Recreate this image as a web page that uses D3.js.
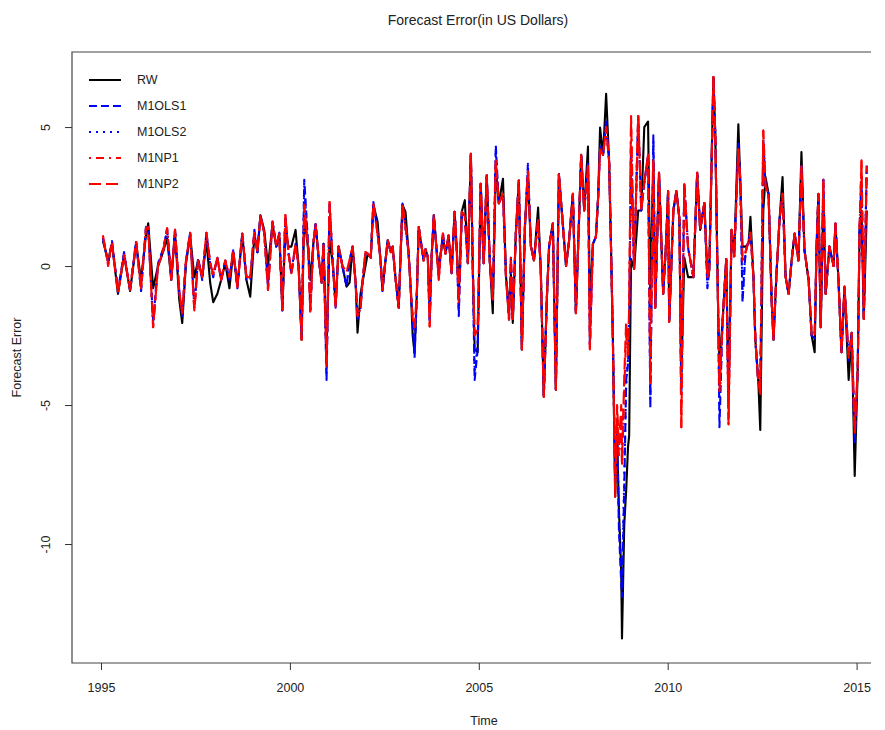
<!DOCTYPE html>
<html>
<head>
<meta charset="utf-8">
<script src="https://cdn.jsdelivr.net/npm/d3@7"></script>
<style>
  html, body { margin: 0; padding: 0; background: #fff; }
  svg { display: block; font-family: "Liberation Sans", Arial, sans-serif; }
</style>
</head>
<body>
<svg id="chart" width="885" height="730"></svg>
<script>
// Forecast errors (US dollars) of five forecasting models, 1995–2015.
const dates = [
  1995.05,1995.19,1995.29,1995.45,1995.61,1995.77,1995.93,1996.06,1996.19,1996.25,
  1996.38,1996.51,1996.64,1996.75,1996.86,1996.96,1997.07,1997.15,1997.25,1997.36,
  1997.47,1997.57,1997.68,1997.79,1997.89,1997.97,1998.08,1998.18,1998.29,1998.40,
  1998.50,1998.61,1998.74,1998.85,1998.95,1999.06,1999.14,1999.22,1999.32,1999.42,
  1999.54,1999.64,1999.72,1999.80,1999.88,1999.96,2000.04,2000.15,2000.23,2000.31,
  2000.38,2000.49,2000.54,2000.62,2000.68,2000.76,2000.84,2000.89,2000.97,2001.05,
  2001.13,2001.21,2001.29,2001.39,2001.50,2001.58,2001.66,2001.74,2001.79,2001.87,
  2001.92,2002.00,2002.06,2002.14,2002.21,2002.32,2002.40,2002.45,2002.53,2002.59,
  2002.67,2002.72,2002.80,2002.88,2002.93,2002.98,2003.06,2003.14,2003.20,2003.25,
  2003.30,2003.36,2003.41,2003.54,2003.59,2003.65,2003.70,2003.75,2003.81,2003.89,
  2003.94,2003.99,2004.05,2004.12,2004.20,2004.28,2004.36,2004.42,2004.47,2004.55,
  2004.63,2004.71,2004.79,2004.84,2004.89,2004.97,2005.05,2005.13,2005.21,2005.29,
  2005.37,2005.45,2005.53,2005.64,2005.72,2005.80,2005.85,2005.90,2005.98,2006.06,
  2006.14,2006.22,2006.30,2006.38,2006.46,2006.57,2006.64,2006.72,2006.80,2006.86,
  2006.96,2007.04,2007.12,2007.23,2007.31,2007.39,2007.49,2007.57,2007.71,2007.79,
  2007.89,2007.94,2008.02,2008.10,2008.16,2008.21,2008.29,2008.37,2008.45,2008.50,
  2008.55,2008.61,2008.66,2008.71,2008.77,2008.79,2008.85,2008.90,2008.95,2008.98,
  2009.03,2009.11,2009.22,2009.30,2009.38,2009.48,2009.54,2009.62,2009.67,2009.77,
  2009.88,2009.96,2010.01,2010.04,2010.15,2010.23,2010.31,2010.36,2010.44,2010.54,
  2010.68,2010.78,2010.86,2010.97,2011.05,2011.10,2011.21,2011.26,2011.34,2011.37,
  2011.45,2011.55,2011.61,2011.69,2011.76,2011.87,2011.92,2011.98,2012.06,2012.14,
  2012.19,2012.27,2012.32,2012.40,2012.45,2012.53,2012.59,2012.67,2012.75,2012.80,
  2012.88,2012.96,2013.04,2013.12,2013.20,2013.28,2013.36,2013.46,2013.54,2013.62,
  2013.73,2013.81,2013.89,2013.94,2013.99,2014.05,2014.12,2014.18,2014.28,2014.39,
  2014.44,2014.52,2014.60,2014.68,2014.79,2014.87,2014.95,2015.03,2015.08,2015.13,
  2015.19,2015.27
];

const rw = [
  0.9,0.2,0.8,-1.0,0.4,-0.9,0.8,-0.5,1.1,1.54,
  -0.8,0.0,0.5,1.0,-0.5,1.2,-1.2,-2.05,0.1,1.1,
  -0.4,0.2,-0.4,0.9,-0.6,-1.3,-1.0,-0.5,0.1,-0.8,
  0.5,-0.7,1.1,-0.5,-1.1,1.1,0.5,1.83,1.3,0.0,
  1.5,0.7,1.1,-1.5,1.2,0.7,0.7,1.3,0.0,-2.65,
  1.8,0.5,-0.5,0.8,1.5,0.3,-0.6,0.8,-3.0,0.9,
  0.2,-1.4,0.7,0.0,-0.74,-0.6,0.7,-0.6,-2.4,-1.0,
  -0.6,0.0,0.45,0.3,2.2,1.6,0.2,-0.86,0.2,0.93,
  0.5,0.7,-0.5,-1.5,0.4,2.2,1.95,0.5,-0.86,-2.5,
  -3.13,-1.0,1.4,0.2,0.6,0.33,-1.5,0.3,1.83,0.45,
  0.0,0.4,1.0,0.45,1.1,-0.26,1.95,0.5,-1.0,1.95,
  2.37,0.1,4.04,0.0,-3.0,-3.1,2.96,0.1,3.26,0.2,
  -1.7,3.5,2.25,3.14,-0.38,-1.5,-0.3,-2.05,1.17,3.08,
  -3.0,1.4,3.2,0.7,0.2,2.1,-0.14,-4.7,-1.2,0.7,
  1.53,-4.45,3.3,1.4,0.0,0.93,2.6,-1.7,4.0,2.0,
  4.3,-1.5,0.79,1.06,2.5,4.98,4.0,6.2,3.76,0.65,
  -2.7,-8.3,-6.1,-8.8,-11.0,-13.4,-9.3,-8.1,-6.5,-6.1,
  0.25,-0.1,2.0,2.0,5.0,5.2,-1.0,3.8,-1.5,3.35,
  -1.0,0.9,2.7,-2.0,2.0,2.7,1.7,-4.0,0.3,-0.4,
  -0.4,3.35,1.3,2.27,-0.3,-0.16,6.8,4.7,-2.05,-3.5,
  -2.05,0.25,-4.8,1.3,0.35,5.1,3.1,0.7,0.7,0.8,
  1.77,-0.4,-2.65,-4.2,-5.9,2.0,3.2,2.6,-1.2,-2.65,
  -0.26,1.65,3.2,-0.38,-1.0,0.2,1.17,0.2,4.1,0.57,
  -0.5,-2.5,-3.1,0.7,2.6,-2.2,2.5,-1.0,0.7,0.0,
  1.53,-0.5,-3.1,-0.74,-4.1,-2.4,-7.55,-3.7,1.4,2.0,
  -1.9,2.0
];

const m1ols1 = [
  1.0,0.1,0.9,-0.9,0.5,-0.9,0.9,-0.9,1.4,1.3,
  -2.0,0.1,0.6,1.3,-0.4,1.3,-0.9,-1.8,0.2,1.2,
  -1.5,0.3,-0.5,1.2,0.1,-0.4,0.3,-0.5,0.2,-0.5,
  0.6,-0.8,1.2,-0.5,-0.5,1.3,0.5,1.8,1.2,-0.7,
  1.6,0.7,1.2,-1.6,1.8,0.5,-0.3,0.8,0.0,-2.6,
  3.1,0.6,-1.6,0.8,1.5,0.3,-0.6,0.8,-4.1,2.2,
  0.2,-1.5,0.7,0.0,-0.74,0.2,0.7,-0.6,-1.9,-1.5,
  -0.6,0.5,0.45,0.3,2.3,1.2,0.2,-0.9,0.2,0.93,
  0.5,0.7,-0.5,-1.5,0.4,2.25,1.4,0.5,-0.86,-2.0,
  -3.3,-1.0,1.4,0.2,0.6,0.33,-2.0,0.3,1.83,0.45,
  -0.3,0.4,1.17,0.45,1.1,-0.26,1.95,0.5,-1.8,1.95,
  1.8,0.1,4.0,0.0,-4.1,-3.0,2.96,0.1,3.26,0.2,
  -1.3,4.34,2.25,2.6,-0.38,-1.93,0.3,-1.9,1.17,3.08,
  -3.0,1.4,3.68,0.7,0.2,1.65,-0.14,-4.7,-1.2,0.7,
  1.53,-4.45,3.3,1.4,0.0,0.93,2.6,-1.7,4.0,2.0,
  3.7,-2.8,0.79,1.06,2.5,4.3,4.0,5.2,3.76,0.65,
  -2.7,-7.5,-6.0,-9.5,-11.4,-11.9,-8.0,-4.1,-3.5,-2.0,
  4.0,-0.1,5.4,2.0,3.0,4.0,-5.1,4.7,-1.5,3.35,
  -1.0,0.9,2.7,-2.0,2.0,2.7,1.7,-4.5,2.95,0.65,
  -0.4,3.35,1.3,2.27,-0.8,-0.16,6.8,4.7,-2.05,-5.8,
  -2.05,0.25,-5.0,1.3,0.35,4.4,3.1,-1.3,0.5,0.9,
  1.2,-0.4,-2.65,-4.2,-4.3,4.5,2.85,2.6,-1.2,-2.65,
  -0.26,1.65,2.6,-0.38,-1.0,0.2,1.17,0.2,3.6,0.57,
  -0.5,-2.5,-2.6,0.7,2.6,-2.2,3.1,-1.0,0.7,0.0,
  1.53,-0.5,-3.1,-0.74,-3.4,-2.4,-6.4,-3.7,1.4,3.0,
  -1.9,3.7
];

const m1ols2 = [
  1.0,0.1,0.9,-0.95,0.45,-0.85,0.85,-0.85,1.3,1.35,
  -2.1,0.0,0.5,1.3,-0.5,1.3,-0.9,-1.8,0.2,1.2,
  -1.5,0.2,-0.4,1.1,0.1,-0.3,0.3,-0.5,0.2,-0.4,
  0.57,-0.75,1.17,-0.4,-0.4,1.2,0.5,1.8,1.2,-0.8,
  1.6,0.7,1.2,-1.6,1.8,0.5,-0.2,0.8,0.0,-2.6,
  2.9,0.57,-1.6,0.8,1.5,0.33,-0.6,0.8,-3.9,2.2,
  0.2,-1.45,0.7,0.0,-0.7,0.2,0.7,-0.6,-1.8,-1.5,
  -0.6,0.5,0.45,0.3,2.25,1.17,0.2,-0.86,0.2,0.93,
  0.5,0.7,-0.5,-1.5,0.4,2.25,1.4,0.5,-0.86,-1.9,
  -3.0,-1.0,1.4,0.2,0.6,0.33,-2.0,0.3,1.83,0.45,
  -0.4,0.4,1.17,0.45,1.1,-0.26,1.95,0.5,-1.6,1.95,
  1.8,0.1,4.0,0.0,-3.8,-2.8,2.96,0.1,3.26,0.2,
  -1.2,4.1,2.25,2.6,-0.38,-1.93,0.3,-1.9,1.17,3.08,
  -3.0,1.4,3.5,0.7,0.2,1.65,-0.14,-4.7,-1.2,0.7,
  1.53,-4.45,3.3,1.4,0.0,0.93,2.6,-1.7,4.0,2.0,
  3.6,-2.9,0.79,1.06,2.5,4.2,4.0,5.1,3.76,0.65,
  -2.7,-7.8,-5.8,-9.2,-11.0,-11.5,-7.6,-4.3,-3.3,-2.0,
  4.2,-0.1,5.3,2.0,3.0,4.0,-4.8,4.5,-1.5,3.35,
  -1.0,0.9,2.7,-2.0,2.0,2.7,1.7,-4.6,2.95,0.65,
  -0.4,3.35,1.3,2.27,-0.6,-0.16,6.8,4.7,-2.05,-5.2,
  -2.05,0.25,-5.2,1.3,0.35,4.3,3.1,-1.0,0.5,0.9,
  1.2,-0.4,-2.65,-4.2,-4.4,4.6,2.85,2.6,-1.2,-2.65,
  -0.26,1.65,2.6,-0.38,-1.0,0.2,1.17,0.2,3.6,0.57,
  -0.5,-2.5,-2.5,0.7,2.6,-2.2,3.1,-1.0,0.7,0.0,
  1.53,-0.5,-3.1,-0.74,-3.3,-2.4,-6.2,-3.7,1.4,3.2,
  -1.9,3.6
];

const m1np1 = [
  1.1,0.0,0.8,-0.95,0.4,-0.8,0.9,-0.8,1.35,1.4,
  -2.2,0.0,0.5,1.36,-0.5,1.3,-0.9,-1.7,0.2,1.2,
  -1.6,0.2,-0.4,1.2,0.1,-0.3,0.3,-0.5,0.2,-0.4,
  0.57,-0.75,1.17,-0.4,-0.4,1.2,0.5,1.8,1.2,-0.86,
  1.6,0.7,1.17,-1.58,1.83,0.5,-0.26,0.8,0.0,-2.65,
  2.2,0.57,-1.7,0.8,1.5,0.33,-0.6,0.8,-3.6,2.3,
  0.2,-1.45,0.7,0.0,-0.2,0.2,0.7,-0.6,-1.8,-1.5,
  -0.6,0.5,0.45,0.3,2.25,1.17,0.2,-0.86,0.2,0.93,
  0.5,0.7,-0.5,-1.5,0.4,2.25,1.4,0.5,-0.86,-1.9,
  -2.2,-1.0,1.4,0.2,0.6,0.33,-2.17,0.3,1.83,0.45,
  -0.5,0.4,1.17,0.45,1.1,-0.26,1.95,0.5,-1.3,1.95,
  1.8,0.1,4.04,0.0,-2.5,-2.3,2.96,0.1,3.26,0.2,
  -1.2,3.8,2.25,2.6,-0.38,-1.93,0.3,-1.9,1.17,3.08,
  -3.0,1.4,3.4,0.7,0.2,1.65,-0.14,-4.7,-1.2,0.7,
  1.53,-4.45,3.3,1.4,0.0,0.93,2.6,-1.7,4.0,2.0,
  3.6,-3.0,0.79,1.06,2.5,4.2,4.0,5.0,3.76,0.65,
  -2.7,-8.0,-5.2,-6.8,-5.5,-7.2,-4.5,-2.5,-3.2,-1.6,
  5.2,-0.1,5.4,2.0,3.0,4.0,-4.2,3.8,-1.5,3.35,
  -1.0,0.9,2.7,-2.0,2.0,2.7,1.7,-5.8,2.95,0.65,
  -0.4,3.35,1.3,2.27,-0.4,-0.16,6.8,4.7,-2.05,-4.5,
  -2.05,0.25,-5.7,1.3,0.35,4.2,3.1,0.2,0.5,0.9,
  1.2,-0.4,-2.65,-4.2,-4.6,4.87,2.85,2.6,-1.2,-2.65,
  -0.26,1.65,2.6,-0.38,-1.0,0.2,1.17,0.2,3.6,0.57,
  -0.5,-2.5,-2.5,0.7,2.6,-2.2,3.1,-1.0,0.7,0.0,
  1.53,-0.5,-3.1,-0.74,-3.3,-2.4,-6.0,-3.7,1.4,3.8,
  -1.9,3.6
];

const m1np2 = [
  1.1,0.1,0.86,-0.97,0.4,-0.86,0.86,-0.8,1.36,1.4,
  -2.2,0.0,0.5,1.36,-0.5,1.3,-0.9,-1.7,0.2,1.2,
  -1.6,0.2,-0.4,1.2,0.1,-0.3,0.3,-0.5,0.2,-0.4,
  0.57,-0.75,1.17,-0.4,-0.4,1.2,0.5,1.8,1.2,-0.86,
  1.6,0.7,1.17,-1.58,1.83,0.5,-0.26,0.8,0.0,-2.65,
  2.2,0.57,-1.7,0.8,1.5,0.33,-0.6,0.8,-3.6,2.3,
  0.2,-1.45,0.7,0.0,-0.2,0.2,0.7,-0.6,-1.8,-1.5,
  -0.6,0.5,0.45,0.3,2.25,1.17,0.2,-0.86,0.2,0.93,
  0.5,0.7,-0.5,-1.5,0.4,2.25,1.4,0.5,-0.86,-1.9,
  -2.2,-1.0,1.4,0.2,0.6,0.33,-2.17,0.3,1.83,0.45,
  -0.5,0.4,1.17,0.45,1.1,-0.26,1.95,0.5,-1.3,1.95,
  1.8,0.1,4.04,0.0,-2.5,-2.3,2.96,0.1,3.26,0.2,
  -1.2,3.8,2.25,2.6,-0.38,-1.93,0.3,-1.9,1.17,3.08,
  -3.0,1.4,3.4,0.7,0.2,1.65,-0.14,-4.7,-1.2,0.7,
  1.53,-4.45,3.3,1.4,0.0,0.93,2.6,-1.7,4.0,2.0,
  3.6,-3.0,0.79,1.06,2.5,4.2,4.0,5.0,3.76,0.65,
  -2.7,-8.3,-5.0,-6.5,-5.0,-7.0,-4.0,-2.0,-3.0,-1.5,
  5.4,-0.1,5.4,2.0,3.0,4.0,-4.2,3.8,-1.5,3.35,
  -1.0,0.9,2.7,-2.0,2.0,2.7,1.7,-5.8,2.95,0.65,
  -0.4,3.35,1.3,2.27,-0.4,-0.16,6.8,4.7,-2.05,-4.5,
  -2.05,0.25,-5.7,1.3,0.35,4.2,3.1,0.2,0.5,0.9,
  1.2,-0.4,-2.65,-4.2,-4.6,4.87,2.85,2.6,-1.2,-2.65,
  -0.26,1.65,2.6,-0.38,-1.0,0.2,1.17,0.2,3.6,0.57,
  -0.5,-2.5,-2.5,0.7,2.6,-2.2,3.1,-1.0,0.7,0.0,
  1.53,-0.5,-3.1,-0.74,-3.3,-2.4,-6.0,-3.7,1.4,3.8,
  -1.9,3.6
];

const seriesNames = ["RW", "M1OLS1", "M1OLS2", "M1NP1", "M1NP2"];
const seriesValues = [rw, m1ols1, m1ols2, m1np1, m1np2];
const seriesColors = ["#000000", "#0000ff", "#0000ff", "#ff0000", "#ff0000"];
const seriesDashes = [null, "8,4", "2,5", "2,5,8,5", "12,5"];

const xTicks = [1995, 2000, 2005, 2010, 2015];
const yTicks = [-10, -5, 0, 5];

const svg = d3.select("#chart");
const plot = { left: 72, right: 871, top: 52, bottom: 663 };

// Year axis: 1995 sits at x=101, 37.78 px per year.
const pxPerYear = 37.78;
const x = d3.scaleLinear()
  .domain([1995 - (101 - plot.left) / pxPerYear, 1995 + (plot.right - 101) / pxPerYear])
  .range([plot.left, plot.right]);
const y = d3.scaleLinear()
  .domain([-14.28, 7.7])
  .range([plot.bottom, plot.top]);

// Series lines, clipped to the plotting region
svg.append("clipPath").attr("id", "plotclip")
  .append("rect")
  .attr("x", plot.left).attr("y", plot.top)
  .attr("width", plot.right - plot.left).attr("height", plot.bottom - plot.top);

const line = d3.line()
  .x((d, i) => x(dates[i]))
  .y(d => y(d));

const lines = svg.append("g").attr("clip-path", "url(#plotclip)");
seriesValues.forEach((vals, k) => {
  lines.append("path")
    .datum(vals)
    .attr("d", line)
    .attr("fill", "none")
    .attr("stroke", seriesColors[k])
    .attr("stroke-width", 2.1)
    .attr("stroke-linejoin", "round")
    .attr("stroke-dasharray", seriesDashes[k]);
});

// Frame (open on the right where the plot runs past the page edge)
svg.append("path")
  .attr("d", `M${plot.right},${plot.top}H${plot.left}V${plot.bottom}H${plot.right}`)
  .attr("fill", "none")
  .attr("stroke", "#444")
  .attr("stroke-width", 1.2);

// X axis ticks and labels
const xAxis = d3.axisBottom(x).tickValues(xTicks).tickFormat(d3.format("d")).tickSize(7).tickPadding(13);
const gx = svg.append("g").attr("transform", `translate(0,${plot.bottom})`).call(xAxis);
gx.select(".domain").remove();
gx.selectAll("line").attr("stroke", "#333");
gx.selectAll("text").attr("font-size", 12.5).attr("fill", "#222")
  .attr("font-family", "'Liberation Sans', Arial, sans-serif");

// Y axis ticks with rotated labels
const yAxis = d3.axisLeft(y).tickValues(yTicks).tickFormat(d => d).tickSize(7).tickPadding(0);
const gy = svg.append("g").attr("transform", `translate(${plot.left},0)`).call(yAxis);
gy.select(".domain").remove();
gy.selectAll("line").attr("stroke", "#333");
gy.selectAll("text")
  .attr("font-size", 12.5).attr("fill", "#222")
  .attr("font-family", "'Liberation Sans', Arial, sans-serif")
  .attr("x", 0).attr("dy", null)
  .attr("text-anchor", "middle")
  .attr("transform", "translate(-22,0) rotate(-90)");

// Titles
svg.append("text")
  .attr("x", 478).attr("y", 25)
  .attr("text-anchor", "middle")
  .attr("font-size", 14).attr("fill", "#222")
  .text("Forecast Error(in US Dollars)");
svg.append("text")
  .attr("x", 484).attr("y", 725)
  .attr("text-anchor", "middle")
  .attr("font-size", 12.5).attr("fill", "#222")
  .text("Time");
svg.append("text")
  .attr("transform", `translate(21,${(plot.top + plot.bottom) / 2}) rotate(-90)`)
  .attr("text-anchor", "middle")
  .attr("font-size", 12.5).attr("fill", "#222")
  .text("Forecast Error");

// Legend
const legend = svg.append("g");
seriesNames.forEach((name, k) => {
  const ly = 80 + k * 26;
  legend.append("line")
    .attr("x1", 89).attr("x2", 121).attr("y1", ly).attr("y2", ly)
    .attr("stroke", seriesColors[k]).attr("stroke-width", 2)
    .attr("stroke-dasharray", seriesDashes[k]);
  legend.append("text")
    .attr("x", 137).attr("y", ly).attr("dy", "0.35em")
    .attr("font-size", 12.5).attr("fill", "#222")
    .text(name);
});
</script>
</body>
</html>
